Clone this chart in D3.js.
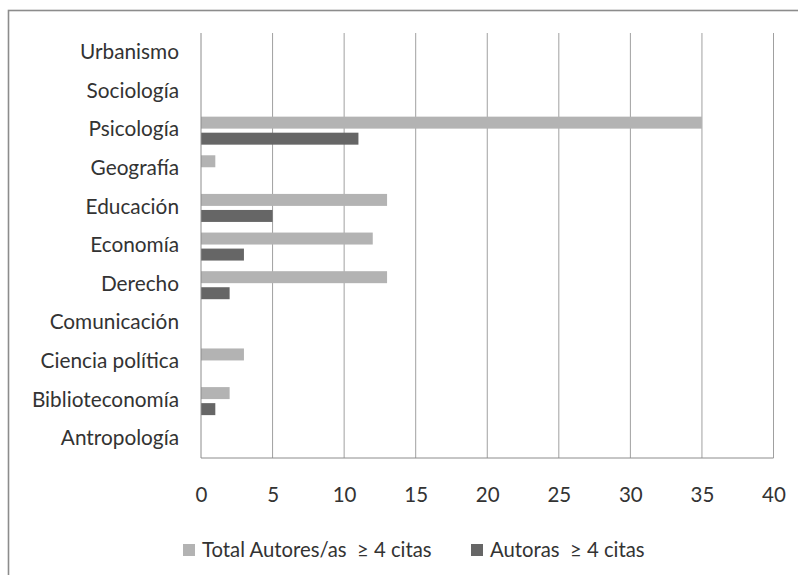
<!DOCTYPE html>
<html>
<head>
<meta charset="utf-8">
<script src="https://cdn.jsdelivr.net/npm/d3@7"></script>
<style>
  html, body { margin: 0; padding: 0; background: #fff; }
  svg { display: block; }
  text { font-family: Lato, "Open Sans", sans-serif; fill: #333; white-space: pre; }
</style>
</head>
<body>
<svg id="chart" width="798" height="575"></svg>
<script>
// Disciplines, top to bottom as drawn
const categories = ["Urbanismo", "Sociología", "Psicología", "Geografía", "Educación",
  "Economía", "Derecho", "Comunicación", "Ciencia política", "Biblioteconomía", "Antropología"];
// Total authors (men and women) with at least 4 citations
const totalValues = [0, 0, 35, 1, 13, 12, 13, 0, 3, 2, 0];
// Women authors with at least 4 citations
const womenValues = [0, 0, 11, 0, 5, 3, 2, 0, 0, 1, 0];
const xTicks = [0, 5, 10, 15, 20, 25, 30, 35, 40];
const seriesNames = ["Total Autores/as  \u2265 4 citas", "Autoras  \u2265 4 citas"];
const seriesColors = ["#b3b3b3", "#666666"];

const svg = d3.select("#chart");

// outer chart frame
svg.append("rect")
  .attr("x", 8.5).attr("y", 10.5)
  .attr("width", 820).attr("height", 600)
  .attr("fill", "none").attr("stroke", "#8c8c8c").attr("stroke-width", 1.6);

const plot = { left: 201, right: 773.5, top: 33, bottom: 458 };

const x = d3.scaleLinear().domain([0, 40]).range([plot.left, plot.right]);
const y = d3.scaleBand().domain(categories).range([plot.top, plot.bottom]);
const bw = y.bandwidth();

// vertical gridlines
svg.append("g").selectAll("line").data(xTicks.slice(1)).join("line")
  .attr("x1", d => x(d)).attr("x2", d => x(d))
  .attr("y1", plot.top).attr("y2", plot.bottom)
  .attr("stroke", "#a0a0a0").attr("stroke-width", 1);

// bars
const barH = bw * 0.31;
const g = svg.append("g");
g.selectAll("rect.total").data(categories).join("rect")
  .attr("class", "total")
  .attr("x", x(0))
  .attr("y", d => y(d) + bw * 0.165)
  .attr("width", (d, i) => x(totalValues[i]) - x(0))
  .attr("height", barH)
  .attr("fill", seriesColors[0]);
g.selectAll("rect.women").data(categories).join("rect")
  .attr("class", "women")
  .attr("x", x(0))
  .attr("y", d => y(d) + bw * 0.58)
  .attr("width", (d, i) => x(womenValues[i]) - x(0))
  .attr("height", barH)
  .attr("fill", seriesColors[1]);

// axis lines
svg.append("line")
  .attr("x1", plot.left).attr("x2", plot.left)
  .attr("y1", plot.top).attr("y2", plot.bottom)
  .attr("stroke", "#8c8c8c").attr("stroke-width", 1);
svg.append("line")
  .attr("x1", plot.left).attr("x2", plot.right)
  .attr("y1", plot.bottom).attr("y2", plot.bottom)
  .attr("stroke", "#8c8c8c").attr("stroke-width", 1);

// category labels
const yAxis = d3.axisLeft(y).tickSize(0).tickPadding(22);
const ya = svg.append("g").attr("transform", `translate(${plot.left},0)`).call(yAxis);
ya.select(".domain").remove();
ya.selectAll("text").attr("font-size", 20.8).attr("font-family", null).attr("fill", "#333");

// value labels
const xAxis = d3.axisBottom(x).tickValues(xTicks).tickSize(0).tickPadding(29);
const xa = svg.append("g").attr("transform", `translate(0,${plot.bottom})`).call(xAxis);
xa.select(".domain").remove();
xa.selectAll("text").attr("font-size", 20.5).attr("font-family", null).attr("fill", "#333");

// legend
const legend = svg.append("g");
const legendX = [183, 471];
seriesNames.forEach((name, i) => {
  legend.append("rect")
    .attr("x", legendX[i]).attr("y", 544)
    .attr("width", 12).attr("height", 12)
    .attr("fill", seriesColors[i]);
  legend.append("text")
    .attr("x", legendX[i] + 19).attr("y", 557)
    .attr("font-size", 20.3)
    .text(name);
});
</script>
</body>
</html>
